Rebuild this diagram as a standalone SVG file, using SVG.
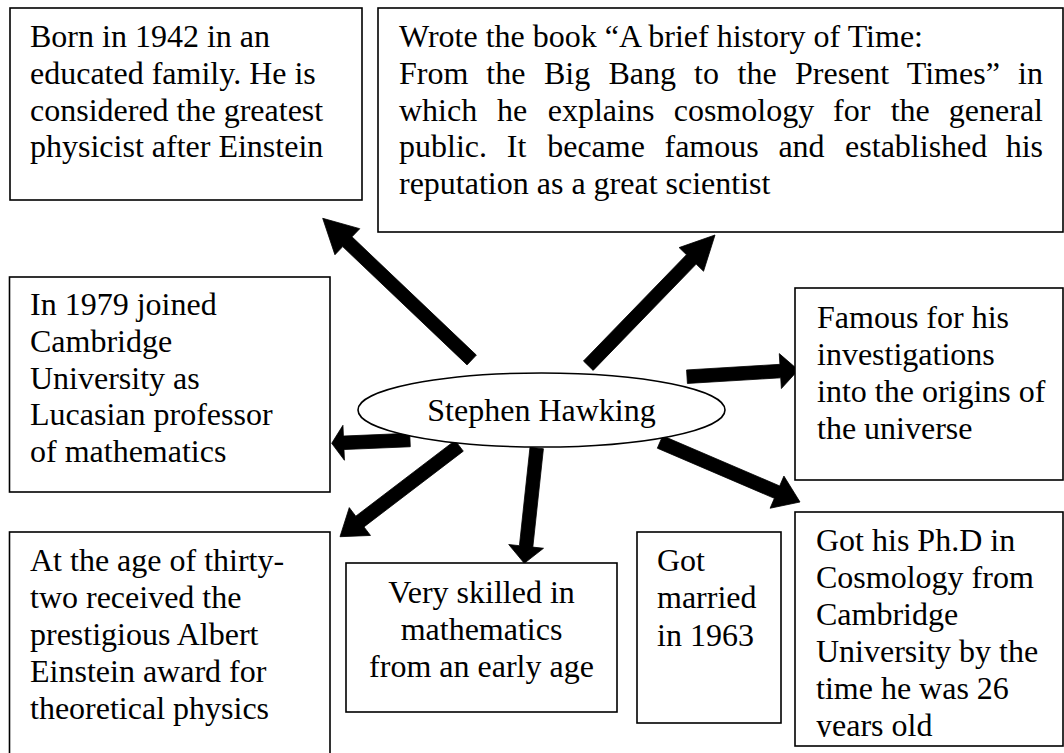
<svg xmlns="http://www.w3.org/2000/svg" width="1064" height="753" viewBox="0 0 1064 753">
  <style>
    .box { fill: #fff; stroke: #000; stroke-width: 1.6; }
    .hub { fill: #fff; stroke: #000; stroke-width: 1.6; }
    .arrow { fill: #000; stroke: #000; stroke-width: 0.8; stroke-linejoin: miter; }
    text { font-family: "Liberation Serif", "Times New Roman", serif; font-size: 32px; fill: #000; }
    .mid { text-anchor: middle; }
    .end { text-anchor: end; }
  </style>
  <defs>
    <clipPath id="phdClip">
      <rect x="795" y="512" width="268" height="225"/>
    </clipPath>
  </defs>
  <rect width="1064" height="753" fill="#fff"/>

  <!-- connectors: thick block arrows radiating from the central ellipse -->
  <g id="connectors">
    <polygon class="arrow" points="476.35,355.11 351.99,236.84 359.75,228.69 322.7,218.3 334.93,254.77 342.69,246.62 467.05,364.89"/>
    <polygon class="arrow" points="593.15,370.4 696.18,264.12 703.54,271.25 715,235 679.12,247.59 686.48,254.72 583.45,361.0"/>
    <polygon class="arrow" points="409.72,433.26 343.41,436.06 342.95,425.32 331.7,443.3 344.43,460.28 343.97,449.54 410.28,446.74"/>
    <polygon class="arrow" points="687.41,383.44 780.74,377.82 781.38,388.55 798.3,370 779.28,353.61 779.92,364.34 686.59,369.96"/>
    <polygon class="arrow" points="657.34,448.2 774.36,498.35 770.12,508.23 800,502 783.92,476.07 779.68,485.95 662.66,435.8"/>
    <polygon class="arrow" points="455.11,440.43 355.79,516.17 349.27,507.62 340,536.7 370.49,535.46 363.97,526.91 463.29,451.17"/>
    <polygon class="arrow" points="529.99,447.28 519.41,545.68 508.72,544.53 524.3,563.3 543.52,548.27 532.83,547.12 543.41,448.72"/>
  </g>

  <g id="center">
    <ellipse class="hub" cx="541.5" cy="410" rx="183.5" ry="37"/>
    <text class="mid" x="541.5" y="421">Stephen Hawking</text>
  </g>

  <g id="born">
    <rect class="box" x="10" y="8" width="352" height="192"/>
    <text x="30" y="47">Born in 1942 in an</text>
    <text x="30" y="84">educated family. He is</text>
    <text x="30" y="120.5">considered the greatest</text>
    <text x="30" y="157">physicist after Einstein</text>
  </g>

  <g id="book">
    <rect class="box" x="378" y="8" width="685" height="224"/>
    <text x="399" y="47">Wrote the book “A brief history of Time:</text>
    <text y="84"><tspan x="399">From</tspan><tspan x="486.3">the</tspan><tspan x="543.9">Big</tspan><tspan x="608.4">Bang</tspan><tspan x="694">to</tspan><tspan x="737.5">the</tspan><tspan x="795">Present</tspan><tspan x="906.8">Times”</tspan><tspan class="end" x="1043">in</tspan></text>
    <text y="120.5"><tspan x="399">which</tspan><tspan x="497">he</tspan><tspan x="547.7">explains</tspan><tspan x="673.7">cosmology</tspan><tspan x="833">for</tspan><tspan x="890.7">the</tspan><tspan class="end" x="1043">general</tspan></text>
    <text y="157"><tspan x="399">public.</tspan><tspan x="506.8">It</tspan><tspan x="547.2">became</tspan><tspan x="664.5">famous</tspan><tspan x="778.4">and</tspan><tspan x="845.1">established</tspan><tspan class="end" x="1043">his</tspan></text>
    <text x="399" y="194">reputation as a great scientist</text>
  </g>

  <g id="cambridge">
    <rect class="box" x="9.5" y="277" width="320.5" height="215"/>
    <text x="30" y="315">In 1979 joined</text>
    <text x="30" y="351.8">Cambridge</text>
    <text x="30" y="388.6">University as</text>
    <text x="30" y="425.4">Lucasian professor</text>
    <text x="30" y="462.2">of mathematics</text>
  </g>

  <g id="famous">
    <rect class="box" x="795" y="288" width="268" height="192"/>
    <text x="817" y="328">Famous for his</text>
    <text x="817" y="365">investigations</text>
    <text x="817" y="402">into the origins of</text>
    <text x="817" y="438.5">the universe</text>
  </g>

  <g id="award">
    <rect class="box" x="9.5" y="532" width="320.5" height="240"/>
    <text x="30" y="571">At the age of thirty-</text>
    <text x="30" y="608">two received the</text>
    <text x="30" y="645">prestigious Albert</text>
    <text x="30" y="682">Einstein award for</text>
    <text x="30" y="718.5">theoretical physics</text>
  </g>

  <g id="skilled">
    <rect class="box" x="346" y="563" width="271" height="149"/>
    <text class="mid" x="481.5" y="603">Very skilled in</text>
    <text class="mid" x="481.5" y="640">mathematics</text>
    <text class="mid" x="481.5" y="677">from an early age</text>
  </g>

  <g id="married">
    <rect class="box" x="637" y="532" width="144" height="191"/>
    <text x="657" y="571">Got</text>
    <text x="657" y="608">married</text>
    <text x="657" y="646">in 1963</text>
  </g>

  <g id="phd">
    <rect class="box" x="795" y="512" width="268" height="234"/>
    <g clip-path="url(#phdClip)">
      <text x="816" y="551">Got his Ph.D in</text>
      <text x="816" y="588">Cosmology from</text>
      <text x="816" y="625">Cambridge</text>
      <text x="816" y="662">University by the</text>
      <text x="816" y="698.5">time he was 26</text>
      <text x="816" y="735.5">years old</text>
    </g>
  </g>
</svg>
